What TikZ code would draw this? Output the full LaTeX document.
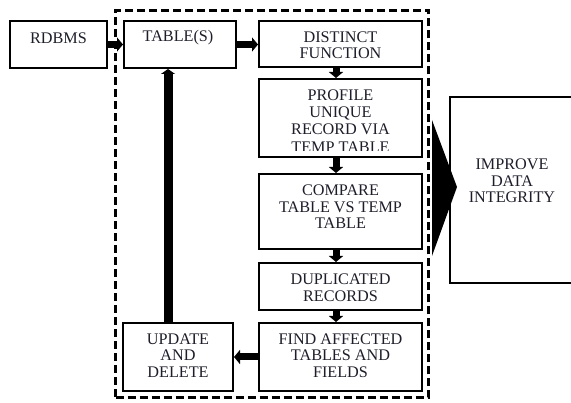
\documentclass[tikz,border=0pt]{standalone}
\usepackage{fontspec}
\setmainfont{Liberation Serif}
\usetikzlibrary{arrows.meta,calc}
\definecolor{txtc}{HTML}{1E1E2A}
\begin{document}
\begin{tikzpicture}[x=1pt,y=-1pt,
  box/.style={draw=black,line width=2pt,fill=none,inner sep=0pt,rectangle},
  txt/.style={text=txtc,align=center,inner sep=0pt,font=\fontsize{16.2}{16.5}\selectfont},
  grpbox/.style={draw=black,line width=2.6pt,dash pattern=on 8pt off 4pt,inner sep=0pt},
  harrow/.style={line width=7pt,-{Triangle[width=14pt,length=6pt]}},
  uparrow/.style={line width=9pt,-{Triangle[width=14pt,length=5pt]}}]
\useasboundingbox (0,0) rectangle (571,403);
\begin{scope}
\clip (0,0) rectangle (571,403);
% boxes
\node[box,minimum width=97pt,minimum height=47pt] (rdbms) at (58.5,44.5) {};
\node[box,minimum width=111.5pt,minimum height=47pt] (tables) at (179.75,44.5) {};
\node[box,minimum width=163pt,minimum height=46pt] (distinct) at (340.5,44) {};
\node[box,minimum width=163pt,minimum height=78pt] (profile) at (340.5,118) {};
\node[box,minimum width=163pt,minimum height=75pt] (compare) at (340.5,211.5) {};
\node[box,minimum width=163pt,minimum height=47pt] (dup) at (340.5,286.5) {};
\node[box,minimum width=163pt,minimum height=68pt] (find) at (340.5,357) {};
\node[box,minimum width=110pt,minimum height=68pt] (update) at (178,357) {};
\node[box,minimum width=124pt,minimum height=186pt] (improve) at (512,190) {};
% big arrow to IMPROVE
\fill[black] (432,120) coordinate (bt) -- ($(improve.west)+(8,-3)$) -- (432,256) coordinate (bb) -- cycle;
% dashed group
\node[grpbox,minimum width=313pt,minimum height=387pt] (grp) at (272,204) {};
% texts
\node[txt] (rdbmsT) at (58.5,38) {RDBMS};
\node[txt] (tablesT) at (178,38) {TABLE(S)};
\node[txt] (distinctT) at (340.5,45) {DISTINCT\\FUNCTION};
\begin{scope}
\clip ([shift={(1,1)}]profile.north west) rectangle ([shift={(-1,-7.5)}]profile.south east);
\node[txt,font=\fontsize{16.2}{17.3}\selectfont] (profileT) at (340.5,121) {PROFILE\\UNIQUE\\RECORD VIA\\TEMP TABLE};
\end{scope}
\node[txt] (compareT) at (340.5,207) {COMPARE\\TABLE VS TEMP\\TABLE};
\node[txt] (dupT) at (340.5,287.5) {DUPLICATED\\RECORDS};
\node[txt] (findT) at (340.5,355.5) {FIND AFFECTED\\TABLES AND\\FIELDS};
\node[txt] (updateT) at (178,355.5) {UPDATE\\AND\\DELETE};
\node[txt] (improveT) at (512,181) {IMPROVE\\DATA\\INTEGRITY};
% connectors
\coordinate (colx) at (336,0);
\coordinate (upx) at (168,0);
\draw[harrow] (rdbms.east) -- (rdbms.east -| tables.west);
\draw[harrow] (tables.east) -- (tables.east -| distinct.west);
\draw[harrow] (distinct.south -| colx) -- (profile.north -| colx);
\draw[harrow] (profile.south -| colx) -- (compare.north -| colx);
\draw[harrow] (compare.south -| colx) -- (dup.north -| colx);
\draw[harrow] (dup.south -| colx) -- (find.north -| colx);
\draw[harrow] (find.west) -- (find.west -| update.east);
\draw[uparrow] (update.north -| upx) -- (tables.south -| upx);
\end{scope}
\end{tikzpicture}
\end{document}
